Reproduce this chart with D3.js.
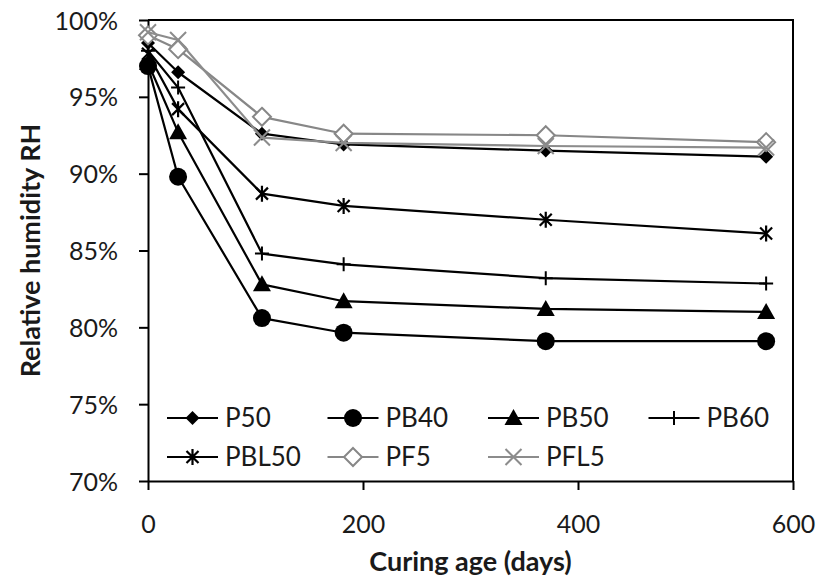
<!DOCTYPE html>
<html>
<head>
<meta charset="utf-8">
<script src="https://cdn.jsdelivr.net/npm/d3@7"></script>
<style>
  html, body { margin: 0; padding: 0; background: #fff; }
  svg { display: block; }
  text { font-family: Lato, "Open Sans", sans-serif; fill: #1a1a1a; }
</style>
</head>
<body>
<svg id="chart" width="818" height="578"></svg>
<script>
// ---- data ----
const days = [0, 28, 106, 182, 370, 575];
const seriesNames = ["P50", "PB40", "PB50", "PB60", "PBL50", "PF5", "PFL5"];
const P50   = [98.5, 96.6, 92.6, 91.9, 91.5, 91.1];
const PB40  = [97.0, 89.8, 80.6, 79.65, 79.1, 79.1];
const PB50  = [97.2, 92.7, 82.8, 81.7, 81.2, 81.0];
const PB60  = [98.0, 95.6, 84.8, 84.1, 83.2, 82.85];
const PBL50 = [97.8, 94.2, 88.7, 87.9, 87.0, 86.1];
const PF5   = [99.0, 98.1, 93.7, 92.6, 92.5, 92.05];
const PFL5  = [99.2, 98.7, 92.35, 92.0, 91.8, 91.7];
const xTicks = [0, 200, 400, 600];
const yTicks = [70, 75, 80, 85, 90, 95, 100];
const xTitle = "Curing age (days)";
const yTitle = "Relative humidity RH";

const values = {P50, PB40, PB50, PB60, PBL50, PF5, PFL5};
const styles = {
  P50:   {color: "#000", marker: "diamondFill"},
  PB40:  {color: "#000", marker: "circle"},
  PB50:  {color: "#000", marker: "triangle"},
  PB60:  {color: "#000", marker: "plus"},
  PBL50: {color: "#000", marker: "star"},
  PF5:   {color: "#878787", marker: "diamondOpen"},
  PFL5:  {color: "#8c8c8c", marker: "cross"}
};

const svg = d3.select("#chart");
const L = 148, R = 793, T = 20, B = 481;

const x = d3.scaleLinear().domain([0, 600]).range([L, R]);
const y = d3.scaleLinear().domain([70, 100]).range([B, T]);

// frame (top and right)
svg.append("path")
  .attr("d", `M${L},${T}H${R}V${B}`)
  .attr("fill", "none").attr("stroke", "#000").attr("stroke-width", 2);

// axes
const gx = svg.append("g").attr("transform", `translate(0,${B})`)
  .call(d3.axisBottom(x).tickValues(xTicks).tickSize(9).tickSizeOuter(0).tickFormat(d3.format("d")));
const gy = svg.append("g").attr("transform", `translate(${L},0)`)
  .call(d3.axisLeft(y).tickValues(yTicks).tickSize(9).tickSizeOuter(0).tickFormat(d => d + "%"));

[gx, gy].forEach(g => {
  g.select(".domain").attr("stroke", "#000").attr("stroke-width", 2);
  g.selectAll(".tick line").attr("stroke", "#000").attr("stroke-width", 2);
  g.selectAll(".tick text").style("font-family", "Lato, 'Open Sans', sans-serif")
    .style("font-size", "25px").attr("fill", "#1a1a1a");
});
gx.selectAll(".tick text").attr("y", 0).attr("dy", 0).attr("transform", "translate(0,52)");
gy.selectAll(".tick text").attr("x", -30).attr("dy", "0.36em");

// titles
svg.append("text")
  .attr("x", (L + R) / 2).attr("y", 571)
  .attr("text-anchor", "middle")
  .style("font-size", "27px").style("font-weight", "bold")
  .text(xTitle);
svg.append("text")
  .attr("transform", `translate(40,${(T + B) / 2}) rotate(-90)`)
  .attr("text-anchor", "middle")
  .style("font-size", "27px").style("font-weight", "bold")
  .text(yTitle);

// marker drawer
function drawMarker(g, type, color) {
  switch (type) {
    case "diamondFill":
      g.append("path").attr("d", "M0,-7L7,0L0,7L-7,0Z").attr("fill", color);
      break;
    case "circle":
      g.append("circle").attr("r", 9).attr("fill", color);
      break;
    case "triangle":
      g.append("path").attr("d", "M0,-9L9,7L-9,7Z").attr("fill", color);
      break;
    case "plus":
      g.append("path").attr("d", "M-7,0H7M0,-7V7").attr("stroke", color).attr("stroke-width", 2).attr("fill", "none");
      break;
    case "star":
      g.append("path").attr("d", "M0,-8V8M-6,-6L6,6M-6,6L6,-6").attr("stroke", color).attr("stroke-width", 2.2).attr("fill", "none");
      break;
    case "diamondOpen":
      g.append("path").attr("d", "M0,-9L9,0L0,9L-9,0Z").attr("fill", "#fff").attr("stroke", color).attr("stroke-width", 2);
      break;
    case "cross":
      g.append("path").attr("d", "M-8,-8L8,8M-8,8L8,-8").attr("stroke", color).attr("stroke-width", 2).attr("fill", "none");
      break;
  }
}

const line = d3.line().x(d => x(d[0])).y(d => y(d[1]));

seriesNames.forEach(name => {
  const pts = days.map((d, i) => [d, values[name][i]]);
  const st = styles[name];
  const g = svg.append("g");
  g.append("path").attr("d", line(pts)).attr("fill", "none")
    .attr("stroke", st.color).attr("stroke-width", 2.2).attr("stroke-linejoin", "round");
  pts.forEach(p => {
    const m = g.append("g").attr("transform", `translate(${x(p[0])},${y(p[1])})`);
    drawMarker(m, st.marker, st.color);
  });
});

// legend
const legendCols = [167, 327.5, 488, 648.5];
const legendRows = [418, 457];
seriesNames.forEach((name, i) => {
  const cx = legendCols[i % 4], cy = legendRows[Math.floor(i / 4)];
  const st = styles[name];
  const g = svg.append("g").attr("transform", `translate(${cx},${cy})`);
  g.append("line").attr("x1", 0).attr("x2", 51).attr("y1", 0).attr("y2", 0)
    .attr("stroke", st.color).attr("stroke-width", 2.2);
  const m = g.append("g").attr("transform", "translate(25.5,0)");
  drawMarker(m, st.marker, st.color);
  g.append("text").attr("x", 58).attr("y", 0).attr("dy", "0.36em")
    .style("font-size", "26px").text(name);
});
</script>
</body>
</html>
